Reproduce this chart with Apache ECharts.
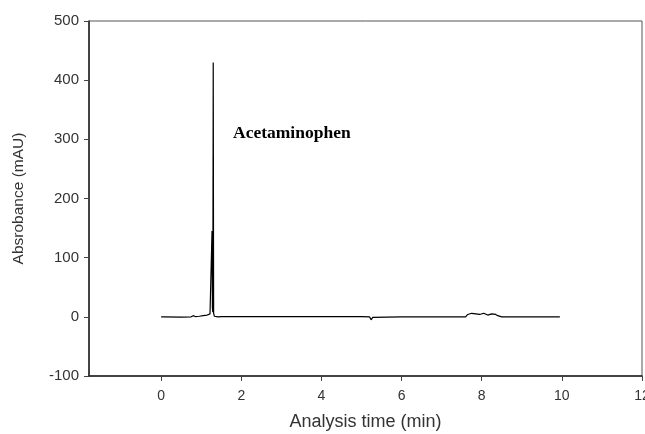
<!DOCTYPE html>
<html>
<head>
<meta charset="utf-8">
<script src="https://cdn.jsdelivr.net/npm/echarts@6/dist/echarts.min.js"></script>
<style>html,body{margin:0;padding:0;background:#fff}#c{width:645px;height:434px}</style>
</head>
<body>
<div id="c"></div>
<script>
var times = [0, 0.04, 0.06, 0.1, 0.5, 0.75, 0.8, 0.85, 0.95, 1.05, 1.15, 1.22, 1.25, 1.27, 1.28, 1.29, 1.30, 1.31, 1.33, 1.36, 1.42, 1.5, 1.7, 1.74, 1.78, 1.82, 1.86, 2.0, 3.0, 3.38, 3.40, 3.42, 4.0, 4.13, 4.15, 4.17, 5.0, 5.2, 5.24, 5.28, 5.32, 6.0, 7.6, 7.65, 7.75, 7.85, 7.95, 8.05, 8.15, 8.25, 8.35, 8.4, 8.5, 9.95];
var absorbance = [0, 2, 0, -1, -0.5, 0, 2, 0.5, 1, 2, 3, 5, 6, 145, 15, 8, 430, 6, 1, -2, 0, 0.5, 0.5, 3, 0.5, 2.5, 0.5, 0.5, 0.5, 0.5, 3, 0.5, 0.5, 0.5, 2, 0.5, 0.5, 0, -5, -1, 0, 0, 0, 4, 6, 5, 4, 6, 3, 5, 4, 2, 0, 0];
var xTicks = [0, 2, 4, 6, 8, 10, 12];
var yTicks = [-100, 0, 100, 200, 300, 400, 500];
var peakLabel = 'Acetaminophen';

var data = times.map(function (t, i) { return [t, absorbance[i]]; });
var chart = echarts.init(document.getElementById('c'));
chart.setOption({
  animation: false,
  backgroundColor: '#fff',
  grid: { left: 89, right: 3, top: 21, bottom: 58, show: true, borderColor: '#555', borderWidth: 1, backgroundColor: 'transparent', outerBoundsMode: 'none', containLabel: false },
  title: {
    text: peakLabel, left: 228, top: 119,
    textStyle: { fontFamily: 'Liberation Serif', fontWeight: 'bold', fontSize: 17.5, color: '#000' }
  },
  xAxis: {
    type: 'value', min: -1.8, max: 12,
    name: 'Analysis time (min)', nameLocation: 'middle', nameGap: 37,
    nameTextStyle: { fontFamily: 'Liberation Sans', fontSize: 18, color: '#333' },
    axisLine: { show: true, onZero: false, lineStyle: { color: '#222', width: 1.5 } },
    axisTick: { show: true, customValues: xTicks, length: 5, lineStyle: { color: '#444' } },
    axisLabel: { customValues: xTicks, margin: 13, fontFamily: 'Liberation Sans', fontSize: 14, color: '#333', hideOverlap: false },
    splitLine: { show: false }
  },
  yAxis: {
    type: 'value', min: -100, max: 500, interval: 100,
    name: 'Absrobance (mAU)', nameLocation: 'middle', nameGap: 62, nameRotate: 90,
    nameTextStyle: { fontFamily: 'Liberation Sans', fontSize: 15.5, color: '#333' },
    axisLine: { show: true, onZero: false, lineStyle: { color: '#222', width: 1.5 } },
    axisTick: { show: true, length: 5, lineStyle: { color: '#444' } },
    axisLabel: { margin: 10, fontFamily: 'Liberation Sans', fontSize: 15, color: '#333' },
    splitLine: { show: false }
  },
  series: [{
    type: 'line', data: data, showSymbol: false, symbol: 'none',
    lineStyle: { color: '#000', width: 1.2 }
  }]
});
</script>
</body>
</html>
